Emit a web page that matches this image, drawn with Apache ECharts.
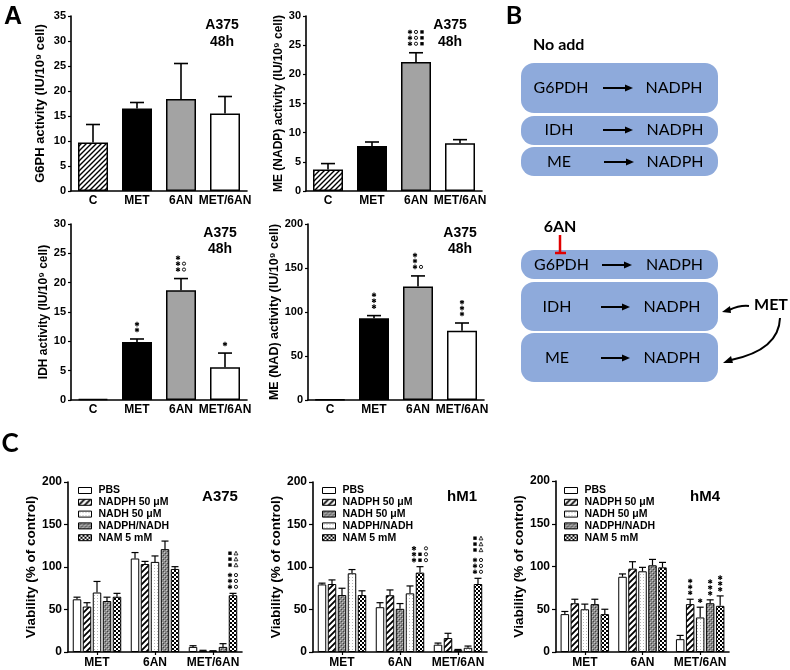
<!DOCTYPE html>
<html><head><meta charset="utf-8">
<script src="https://cdn.jsdelivr.net/npm/echarts@6/dist/echarts.min.js"></script>
<style>html,body{margin:0;padding:0;background:#fff}#c{width:790px;height:670px}</style>
</head><body><div id="c"></div>
<script>
// ================= DATA =================
// Significance marks: '*' star, 'o' circle, 's' filled square, 'd' open triangle, ' ' empty; rows top->bottom
// Panel A (A375, 48h)
const aCategories = ['C', 'MET', '6AN', 'MET/6AN'];
const g6phValues = [9.7, 16.5, 18.4, 15.5];
const g6phErrTop = [13.3, 17.7, 25.5, 18.9];
const g6phAnnot = ['', '', '', ''];
const g6phAxis = [0, 35, 5];            // min, max, interval

const meNadpValues = [3.7, 7.7, 22.1, 8.2];
const meNadpErrTop = [4.7, 8.4, 23.7, 8.8];
const meNadpAnnot = ['', '', '*os\n*os\n*os', ''];
const meNadpAxis = [0, 30, 5];

const idhValues = [0.2, 9.9, 18.7, 5.6];
const idhErrTop = [0.2, 10.4, 20.7, 8.0];
const idhAnnot = ['', '*\n*', '* \n*o\n*o', '*'];
const idhAxis = [0, 30, 5];

const meNadValues = [0.5, 92.8, 128.9, 78.8];
const meNadErrTop = [0.5, 95.9, 141, 87.5];
const meNadAnnot = ['', '*\n*\n*', '* \n* \n*o', '*\n*\n*'];
const meNadAxis = [0, 200, 50];

// Panel C (viability, % of control)
const cCategories = ['MET', '6AN', 'MET/6AN'];
const cAxis = [0, 200, 50];

const a375Names = ['PBS', 'NADPH 50 \u03BCM', 'NADH 50 \u03BCM', 'NADPH/NADH', 'NAM 5 mM'];
const a375Values = [[62, 110, 6], [53.5, 103.5, 1.5], [70, 106, 1.2], [60, 121, 6], [65, 97.7, 66.8]];
const a375ErrTop = [[64.5, 117, 7.4], [58, 106.6, 2], [83, 113, 1.5], [64.5, 130.5, 9.8], [69, 100.4, 69]];
const a375Annot = [['', '', ''], ['', '', ''], ['', '', ''], ['', '', ''],
  ['', '', 'sd\nsd\nsd\n\n*o\n*o\n*o']];

const hm1Names = ['PBS', 'NADPH 50 \u03BCM', 'NADH 50 \u03BCM', 'NADPH/NADH', 'NAM 5 mM'];
const hm1Values = [[79.5, 52.7, 8.6], [80, 66.8, 16.4], [67, 50.8, 2.5], [92.6, 69, 5], [67, 93.4, 80]];
const hm1ErrTop = [[81, 58, 10.5], [84.8, 73, 22], [75, 57, 3], [97, 77.7, 7], [72, 100.4, 86.7]];
const hm1Annot = [['', '', ''], ['', '', ''], ['', '', ''], ['', '', ''],
  ['', '* o\n*so\n*so', 'sd\nsd\nsd\n\n*o\n*o\n*o']];

const hm4Names = ['PBS', 'NADPH 50 \u03BCM', 'NADH 50 \u03BCM', 'NADPH/NADH', 'NAM 5 mM'];
const hm4Values = [[44.3, 88, 15], [57, 97.5, 56], [50, 94.4, 40.4], [56, 101.4, 57], [44.3, 99, 54]];
const hm4ErrTop = [[47.4, 91.3, 19.4], [61.7, 105.6, 61.7], [56, 99, 52.4], [61.7, 108.3, 61], [50, 104.8, 65.6]];
const hm4Annot = [['', '', ''], ['', '', '*\n*\n*'], ['', '', '*'], ['', '', '*\n*\n*'], ['', '', '*\n*\n*']];

// ================= STYLES =================
function tile(w, h, draw) {
  const c = document.createElement('canvas'); c.width = w; c.height = h;
  const g = c.getContext('2d'); draw(g, w, h);
  return { image: c, repeat: 'repeat' };
}
const hatchA = tile(5, 5, g => {
  g.fillStyle = '#fff'; g.fillRect(0, 0, 5, 5);
  g.strokeStyle = '#000'; g.lineWidth = 1.4; g.beginPath();
  g.moveTo(-1, 6); g.lineTo(6, -1); g.moveTo(-1, 1); g.lineTo(1, -1); g.moveTo(4, 6); g.lineTo(6, 4); g.stroke();
});
const hatchC = tile(6, 6, g => {
  g.fillStyle = '#fff'; g.fillRect(0, 0, 6, 6);
  g.strokeStyle = '#000'; g.lineWidth = 1.8; g.beginPath();
  g.moveTo(-1, 7); g.lineTo(7, -1); g.moveTo(-1, 1); g.lineTo(1, -1); g.moveTo(5, 7); g.lineTo(7, 5); g.stroke();
});
const dotLight = tile(3, 3, g => {
  g.fillStyle = '#fff'; g.fillRect(0, 0, 3, 3);
  g.fillStyle = '#b8b8b8'; g.fillRect(1, 1, 1, 1);
});
const grayCross = tile(4, 4, g => {
  g.fillStyle = '#8a8a8a'; g.fillRect(0, 0, 4, 4);
  g.fillStyle = '#c8c8c8'; g.fillRect(0, 0, 1, 1); g.fillRect(2, 2, 1, 1);
  g.fillStyle = '#444'; g.fillRect(1, 1, 1, 1); g.fillRect(3, 3, 1, 1);
});
const checker = tile(4, 4, g => {
  g.fillStyle = '#fff'; g.fillRect(0, 0, 4, 4);
  g.fillStyle = '#000'; g.fillRect(0, 0, 2, 2); g.fillRect(2, 2, 2, 2);
});
const aFills = [hatchA, '#000', '#a3a3a3', '#fff'];
const cFillsStd = ['#fff', hatchC, dotLight, grayCross, checker];
const cFillsHm1 = ['#fff', hatchC, grayCross, dotLight, checker];

const FONT = '"Liberation Sans", Arial, sans-serif';
const DIAG = 'Lato, "Open Sans", sans-serif';

// ================= BUILD =================
const grids = [], xAxes = [], yAxes = [], series = [], legends = [];

function axisPair(idx, grid, cats, ax, name, nameSize, nameGap, isC) {
  grids.push(Object.assign({ containLabel: false }, grid));
  xAxes.push({
    type: 'category', gridIndex: idx, data: cats,
    axisLine: { lineStyle: { color: '#000', width: 1.6 } },
    axisTick: { show: isC, alignWithLabel: true, length: 3, lineStyle: { color: '#000', width: 1.2 } },
    axisLabel: { color: '#000', fontFamily: FONT, fontWeight: 'bold', fontSize: 12, margin: isC ? 5 : 4, interval: 0 },
    splitLine: { show: false }
  });
  yAxes.push({
    type: 'value', gridIndex: idx, min: ax[0], max: ax[1], interval: ax[2],
    name: name, nameLocation: 'middle', nameGap: nameGap, nameRotate: 90,
    nameTextStyle: { color: '#000', fontFamily: FONT, fontWeight: 'bold', fontSize: nameSize },
    axisLine: { show: true, lineStyle: { color: '#000', width: 1.6 } },
    axisTick: { show: true, length: isC ? 4 : 3, lineStyle: { color: '#000', width: 1.2 } },
    axisLabel: { color: '#000', fontFamily: FONT, fontWeight: 'bold', fontSize: isC ? 12 : 11, margin: isC ? 6 : 5 },
    splitLine: { show: false }
  });
}

// significance marks drawn as small shapes
function marks(a, cx, bottomY) {
  const out = [];
  const lines = a.split('\n');
  const ncol = Math.max.apply(null, lines.map(l => l.length));
  const colP = 6, rowP = 5.9;
  const x0 = cx - (ncol - 1) * colP / 2;
  let y = bottomY;
  for (let r = lines.length - 1; r >= 0; r--) {
    const l = lines[r];
    if (l.length === 0) { y -= rowP * 0.7; continue; }
    for (let c = 0; c < l.length; c++) {
      const ch = l[c], x = x0 + c * colP;
      if (ch === '*') {
        const R = 2.3, dx = R * 0.866, dy = R * 0.5;
        const st = { stroke: '#000', lineWidth: 1.15 };
        out.push({ type: 'line', silent: true, shape: { x1: x, y1: y - R, x2: x, y2: y + R }, style: st });
        out.push({ type: 'line', silent: true, shape: { x1: x - dx, y1: y - dy, x2: x + dx, y2: y + dy }, style: st });
        out.push({ type: 'line', silent: true, shape: { x1: x - dx, y1: y + dy, x2: x + dx, y2: y - dy }, style: st });
      } else if (ch === 'o') {
        out.push({ type: 'circle', silent: true, shape: { cx: x, cy: y, r: 1.6 }, style: { fill: null, stroke: '#000', lineWidth: 0.9 } });
      } else if (ch === 's') {
        out.push({ type: 'rect', silent: true, shape: { x: x - 1.7, y: y - 1.7, width: 3.4, height: 3.4 }, style: { fill: '#000' } });
      } else if (ch === 'd') {
        out.push({ type: 'polygon', silent: true, shape: { points: [[x, y - 2], [x - 1.9, y + 1.7], [x + 1.9, y + 1.7]] }, style: { fill: null, stroke: '#000', lineWidth: 0.8 } });
      }
    }
    y -= rowP;
  }
  return out;
}

function errSeries(idx, vals, errs, annots, offset, cap, lw, markGap) {
  return {
    type: 'custom', name: 'err' + idx, xAxisIndex: idx, yAxisIndex: idx, z: 5, silent: true,
    data: vals.map((v, i) => [i, v, errs[i]]),
    renderItem: (params, api) => {
      const i = api.value(0), v = api.value(1), e = api.value(2);
      const p0 = api.coord([i, v]), p1 = api.coord([i, e]);
      const cx = p0[0] + offset;
      let ch = [];
      if (e > v) {
        ch.push({ type: 'line', shape: { x1: cx, y1: p0[1], x2: cx, y2: p1[1] }, style: { stroke: '#000', lineWidth: lw } });
        ch.push({ type: 'line', shape: { x1: cx - cap, y1: p1[1], x2: cx + cap, y2: p1[1] }, style: { stroke: '#000', lineWidth: lw } });
      }
      const a = annots[params.dataIndex];
      if (a) ch = ch.concat(marks(a, cx, Math.min(p0[1], p1[1]) - markGap));
      return { type: 'group', children: ch };
    }
  };
}

function panelA(idx, grid, vals, errs, annots, ax, name, nameSize, nameGap) {
  axisPair(idx, grid, aCategories, ax, name, nameSize, nameGap, false);
  series.push({
    type: 'bar', name: 'A' + idx, xAxisIndex: idx, yAxisIndex: idx, barWidth: 30, silent: true,
    data: vals.map((v, i) => ({ value: v, itemStyle: { color: aFills[i] } })),
    itemStyle: { borderColor: '#000', borderWidth: 1.5 }
  });
  series.push(errSeries(idx, vals, errs, annots, 0, 7, 1.6, 9));
}

const BW = 8.5, GAP = 0.176;
function panelC(idx, grid, names, vals, errs, annots, fills, legendLeft, nameGap) {
  axisPair(idx, grid, cCategories, cAxis, 'Viability (% of control)', 13.5, nameGap, true);
  const pitch = BW * (1 + GAP);
  names.forEach((n, s) => {
    series.push({
      type: 'bar', name: n, xAxisIndex: idx, yAxisIndex: idx, barWidth: BW, barGap: (GAP * 100) + '%', silent: true,
      data: vals[s], itemStyle: { color: fills[s], borderColor: '#000', borderWidth: 1 }
    });
  });
  names.forEach((n, s) => {
    series.push(errSeries(idx, vals[s], errs[s], annots[s], (s - 2) * pitch, 3.5, 1.2, 6.5));
  });
  legends.push({
    orient: 'vertical', left: legendLeft, top: 480, itemWidth: 13, itemHeight: 6, itemGap: 0.8,
    icon: 'rect', selectedMode: false,
    itemStyle: { borderColor: '#000', borderWidth: 1 },
    textStyle: { color: '#000', fontFamily: FONT, fontWeight: 'bold', fontSize: 10.5, lineHeight: 10, padding: [0, 0, 0, 2] },
    data: names.map((n, s) => ({ name: n, itemStyle: { color: fills[s], borderColor: '#000', borderWidth: 1 } }))
  });
}

panelA(0, { left: 71, top: 16, width: 176, height: 175 }, g6phValues, g6phErrTop, g6phAnnot, g6phAxis,
  'G6PH activity (IU/10\u2079 cell)', 13, 24);
panelA(1, { left: 306, top: 16, width: 176, height: 175 }, meNadpValues, meNadpErrTop, meNadpAnnot, meNadpAxis,
  'ME (NADP) activity (IU/10\u2079 cell)', 12, 18);
panelA(2, { left: 71, top: 224, width: 176, height: 176 }, idhValues, idhErrTop, idhAnnot, idhAxis,
  'IDH activity (IU/10\u2079 cell)', 12, 17);
panelA(3, { left: 308, top: 224, width: 176, height: 176 }, meNadValues, meNadErrTop, meNadAnnot, meNadAxis,
  'ME (NAD) activity (IU/10\u2079 cell)', 12.5, 23);

panelC(4, { left: 68, top: 482, width: 174, height: 170 }, a375Names, a375Values, a375ErrTop, a375Annot, cFillsStd, 73, 26);
panelC(5, { left: 313, top: 482, width: 174, height: 170 }, hm1Names, hm1Values, hm1ErrTop, hm1Annot, cFillsHm1, 317, 28);
panelC(6, { left: 556, top: 481, width: 173, height: 171 }, hm4Names, hm4Values, hm4ErrTop, hm4Annot, cFillsStd, 559, 24);

// ================= TEXT & DIAGRAM (panel B) =================
function txt(t, x, y, font, align, fill) {
  return { type: 'text', silent: true, style: { text: t, x: x, y: y, font: font, textAlign: align || 'center', align: align || 'center', textVerticalAlign: 'middle', verticalAlign: 'middle', fill: fill || '#000' } };
}
const BOX = '#8eaadb';
function box(y, h) { return { type: 'rect', silent: true, shape: { x: 521, y: y, width: 197, height: h, r: 13 }, style: { fill: BOX } }; }
function arrow(x1, x2, y) {
  return [
    { type: 'line', silent: true, shape: { x1: x1, y1: y, x2: x2 - 6, y2: y }, style: { stroke: '#000', lineWidth: 2 } },
    { type: 'polygon', silent: true, shape: { points: [[x2, y], [x2 - 8, y - 3.5], [x2 - 8, y + 3.5]] }, style: { fill: '#000' } }
  ];
}
const BF = '16px ' + DIAG;
const g = [];
// panel letters
g.push(txt('A', 13, 17, 'bold 25px ' + FONT));
g.push(txt('B', 514, 16, 'bold 25px ' + DIAG));
g.push(txt('C', 10, 444, 'bold 26px ' + DIAG));
// panel A titles
[[222, 25, 42], [450, 25, 42], [220, 233, 249], [460, 233, 249]].forEach(p => {
  g.push(txt('A375', p[0], p[1], 'bold 14px ' + FONT));
  g.push(txt('48h', p[0], p[2], 'bold 14px ' + FONT));
});
// panel C titles
g.push(txt('A375', 220, 497, 'bold 15px ' + FONT));
g.push(txt('hM1', 462, 497, 'bold 15px ' + FONT));
g.push(txt('hM4', 705, 497, 'bold 15px ' + FONT));
// panel B
g.push(txt('No add', 533, 45, 'bold 16px ' + DIAG, 'left'));
g.push(box(63, 50), box(116, 29), box(147, 29), box(250, 29), box(282, 49), box(333, 49));
const rows = [['G6PDH', 561, 88, 603, 633, 674], ['IDH', 559, 130, 603, 633, 675], ['ME', 559, 162, 604, 634, 675],
  ['G6PDH', 561.5, 265, 602, 632, 674.5], ['IDH', 557, 307, 601, 630, 672], ['ME', 557, 358, 601, 630, 672]];
rows.forEach(r => {
  g.push(txt(r[0], r[1], r[2], BF));
  arrow(r[3], r[4], r[2]).forEach(e => g.push(e));
  g.push(txt('NADPH', r[5], r[2], BF));
});
g.push(txt('6AN', 560, 227, 'bold 16px ' + DIAG));
g.push({ type: 'line', silent: true, shape: { x1: 560, y1: 235, x2: 560, y2: 253 }, style: { stroke: '#e00000', lineWidth: 2.5 } });
g.push({ type: 'line', silent: true, shape: { x1: 555, y1: 253, x2: 566, y2: 253 }, style: { stroke: '#e00000', lineWidth: 2.5 } });
g.push(txt('MET', 771, 305, 'bold 16px ' + DIAG));
g.push({ type: 'bezierCurve', silent: true, shape: { x1: 749, y1: 306, x2: 729, y2: 310, cpx1: 740, cpy1: 305 }, style: { stroke: '#000', lineWidth: 2, fill: null } });
g.push({ type: 'polygon', silent: true, shape: { points: [[722, 312], [730, 306], [731, 313]] }, style: { fill: '#000' } });
g.push({ type: 'bezierCurve', silent: true, shape: { x1: 780, y1: 318, x2: 731, y2: 360, cpx1: 779, cpy1: 350 }, style: { stroke: '#000', lineWidth: 2, fill: null } });
g.push({ type: 'polygon', silent: true, shape: { points: [[723, 363], [731, 356], [733, 363]] }, style: { fill: '#000' } });

const option = {
  backgroundColor: '#fff', animation: false,
  grid: grids, xAxis: xAxes, yAxis: yAxes, series: series, legend: legends,
  graphic: { elements: g }
};
const chart = echarts.init(document.getElementById('c'));
chart.setOption(option);
</script>
</body></html>
